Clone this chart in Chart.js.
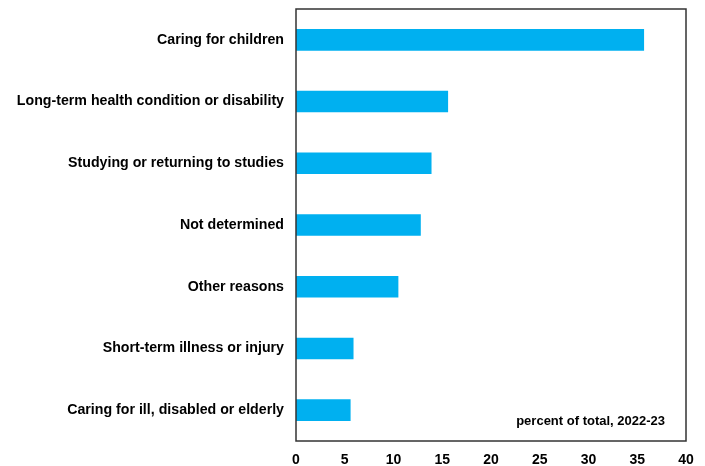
<!DOCTYPE html>
<html>
<head>
<meta charset="utf-8">
<script src="https://cdn.jsdelivr.net/npm/chart.js@4/dist/chart.umd.min.js"></script>
<style>
  html, body { margin: 0; padding: 0; background: #fff; }
  #wrap { width: 705px; height: 466px; }
</style>
</head>
<body>
<div id="wrap"><canvas id="chart"></canvas></div>
<script>
const categories = [
    "Caring for children",
    "Long-term health condition or disability",
    "Studying or returning to studies",
    "Not determined",
    "Other reasons",
    "Short-term illness or injury",
    "Caring for ill, disabled or elderly"
];
const shares = [35.7, 15.6, 13.9, 12.8, 10.5, 5.9, 5.6];
const xTicks = [0, 5, 10, 15, 20, 25, 30, 35, 40];
const noteText = "percent of total, 2022-23";

const frame = {
    id: 'frame',
    afterDraw(chart) {
        const a = chart.chartArea;
        const c = chart.ctx;
        c.save();
        c.strokeStyle = '#333';
        c.lineWidth = 1.5;
        c.strokeRect(a.left, a.top, a.right - a.left, a.bottom - a.top);
        c.fillStyle = '#000';
        c.font = 'bold 13px "Liberation Sans", Arial, sans-serif';
        c.textAlign = 'right';
        c.textBaseline = 'alphabetic';
        c.fillText(noteText, a.right - 21, a.bottom - 16);
        c.restore();
    }
};

const ctx = document.getElementById('chart').getContext('2d');

new Chart(ctx, {
    type: 'bar',
    data: {
        labels: categories,
        datasets: [{
            data: shares,
            backgroundColor: '#00B0F0',
            borderWidth: 0,
            barPercentage: 0.35,
            categoryPercentage: 1
        }]
    },
    options: {
        indexAxis: 'y',
        responsive: true,
        maintainAspectRatio: false,
        animation: false,
        layout: { padding: { top: 9, right: 19, bottom: 0, left: 0 } },
        plugins: {
            legend: { display: false },
            tooltip: { enabled: false }
        },
        scales: {
            x: {
                min: 0,
                max: 40,
                afterBuildTicks: axis => { axis.ticks = xTicks.map(v => ({ value: v })); },
                grid: { display: false, drawTicks: false },
                border: { display: false },
                afterFit: axis => { axis.height = 25; },
                ticks: {
                    color: '#000',
                    padding: 11,
                    maxRotation: 0,
                    font: { family: '"Liberation Sans", Arial, sans-serif', size: 14, weight: 'bold' }
                }
            },
            y: {
                grid: { display: false, drawTicks: false },
                border: { display: false },
                afterFit: axis => {
                    axis.width = 296;
                    axis.paddingTop = 0;
                    axis.paddingBottom = 0;
                },
                ticks: {
                    color: '#000',
                    padding: 12,
                    font: { family: '"Liberation Sans", Arial, sans-serif', size: 14.2, weight: 'bold' }
                }
            }
        }
    },
    plugins: [frame]
});
</script>
</body>
</html>
